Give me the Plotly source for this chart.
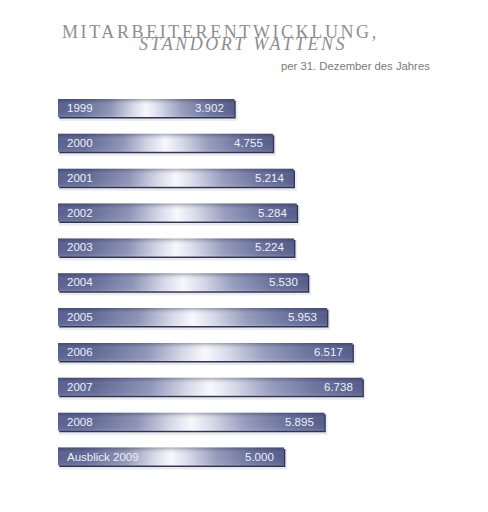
import plotly.graph_objects as go

# ---- data ----
categories = ["1999", "2000", "2001", "2002", "2003", "2004", "2005",
              "2006", "2007", "2008", "Ausblick 2009"]
employees = [3902, 4755, 5214, 5284, 5224, 5530, 5953, 6517, 6738, 5895, 5000]
value_labels = ["3.902", "4.755", "5.214", "5.284", "5.224", "5.530",
                "5.953", "6.517", "6.738", "5.895", "5.000"]

title_line1 = "MITARBEITERENTWICKLUNG,"
title_line2 = "STANDORT WATTENS"
subtitle = "per 31. Dezember des Jahres"

# ---- geometry helpers (pixel <-> data); page body has an 8px margin ----
OFF = 8
W, H = 488 - OFF, 512 - OFF
PX_PER_UNIT_X = 0.0452
X0_PX = 58 - OFF
x_min = -X0_PX / PX_PER_UNIT_X
x_max = x_min + W / PX_PER_UNIT_X

ROW_PX = 34.85
FIRST_CENTER_PX = 108 - OFF
y_top = -FIRST_CENTER_PX / ROW_PX
y_bottom = y_top + H / ROW_PX

half = 9 / ROW_PX          # half bar height
dx = 1 / PX_PER_UNIT_X     # one pixel in x units
dy = 1 / ROW_PX            # one pixel in y units

bar_scale = [[0.0, "#58618f"], [0.12, "#5f6894"], [0.3, "#8d93b6"],
             [0.42, "#d3d6e6"], [0.5, "#f8f8fc"], [0.58, "#d5d8e7"],
             [0.7, "#959bbc"], [0.85, "#6a729d"], [1.0, "#545c8a"]]
shade_scale = [[0.0, "rgba(255,255,255,0.18)"], [0.15, "rgba(255,255,255,0.05)"],
               [0.6, "rgba(255,255,255,0)"],
               [0.85, "rgba(30,34,70,0.12)"], [1.0, "rgba(30,34,70,0.35)"]]

fig = go.Figure()

def rect(v, yc, ox=0.0, oy=0.0, grow=0.0):
    x0, x1 = 0 + ox - grow, v + ox + grow
    y0, y1 = yc - half + oy - grow * dy / dx, yc + half + oy + grow * dy / dx
    return [x0, x1, x1, x0, x0], [y0, y0, y1, y1, y0]

for i, (cat, v) in enumerate(zip(categories, employees)):
    # soft shadow
    xs, ys = rect(v, i, ox=2 * dx, oy=3 * dy, grow=dx)
    fig.add_trace(go.Scatter(x=xs, y=ys, fill="toself", mode="lines",
                             line=dict(width=0), fillcolor="rgba(0,0,0,0.08)",
                             hoverinfo="skip", showlegend=False))
    # dark edge (bottom / right)
    xs, ys = rect(v, i, ox=1.3 * dx, oy=1.5 * dy)
    fig.add_trace(go.Scatter(x=xs, y=ys, fill="toself", mode="lines",
                             line=dict(width=0), fillcolor="#2f3457",
                             hoverinfo="skip", showlegend=False))
    # main bar with horizontal gradient
    xs, ys = rect(v, i)
    fig.add_trace(go.Scatter(x=xs, y=ys, fill="toself", mode="lines",
                             line=dict(width=0),
                             fillgradient=dict(type="horizontal", colorscale=bar_scale),
                             name=cat, hovertemplate=f"{cat}: {value_labels[i]}<extra></extra>",
                             showlegend=False))
    # vertical shading overlay
    fig.add_trace(go.Scatter(x=xs, y=ys, fill="toself", mode="lines",
                             line=dict(width=0),
                             fillgradient=dict(type="vertical", colorscale=shade_scale),
                             hoverinfo="skip", showlegend=False))

annotations = []
label_font = dict(family="Liberation Sans, Arial, sans-serif", size=11.5, color="#eef0f7")
for i, (cat, v) in enumerate(zip(categories, employees)):
    annotations.append(dict(x=0, y=i, xref="x", yref="y", text=cat, showarrow=False,
                            xanchor="left", yanchor="middle", xshift=7, font=label_font))
    annotations.append(dict(x=v, y=i, xref="x", yref="y", text=value_labels[i],
                            showarrow=False, xanchor="right", yanchor="middle",
                            xshift=-8, font=label_font))

serif = "Liberation Serif, Times New Roman, serif"
annotations.append(dict(x=(60 - OFF) / W, y=1 - (32 - OFF) / H, xref="paper", yref="paper",
                        text=f"<span style='letter-spacing:2.6px'>{title_line1}</span>",
                        showarrow=False, xanchor="left", yanchor="middle",
                        font=dict(family=serif, size=18, color="#8e8e8e")))
annotations.append(dict(x=(137 - OFF) / W, y=1 - (44.5 - OFF) / H, xref="paper", yref="paper",
                        text=f"<span style='letter-spacing:2.5px'>{title_line2}</span>",
                        showarrow=False, xanchor="left", yanchor="middle",
                        font=dict(family=serif, size=18, color="#8e8e8e", style="italic")))
annotations.append(dict(x=(432 - OFF) / W, y=1 - (66 - OFF) / H, xref="paper", yref="paper",
                        text=subtitle, showarrow=False, xanchor="right", yanchor="middle",
                        font=dict(family="Liberation Sans, Arial, sans-serif", size=11.3,
                                  color="#7a7a7a")))

fig.update_layout(
    width=W, height=H,
    margin=dict(l=0, r=0, t=0, b=0),
    paper_bgcolor="white", plot_bgcolor="white",
    xaxis=dict(range=[x_min, x_max], visible=False, fixedrange=True),
    yaxis=dict(range=[y_bottom, y_top], visible=False, fixedrange=True),
    annotations=annotations,
    showlegend=False,
)

fig.write_html("out.html")
